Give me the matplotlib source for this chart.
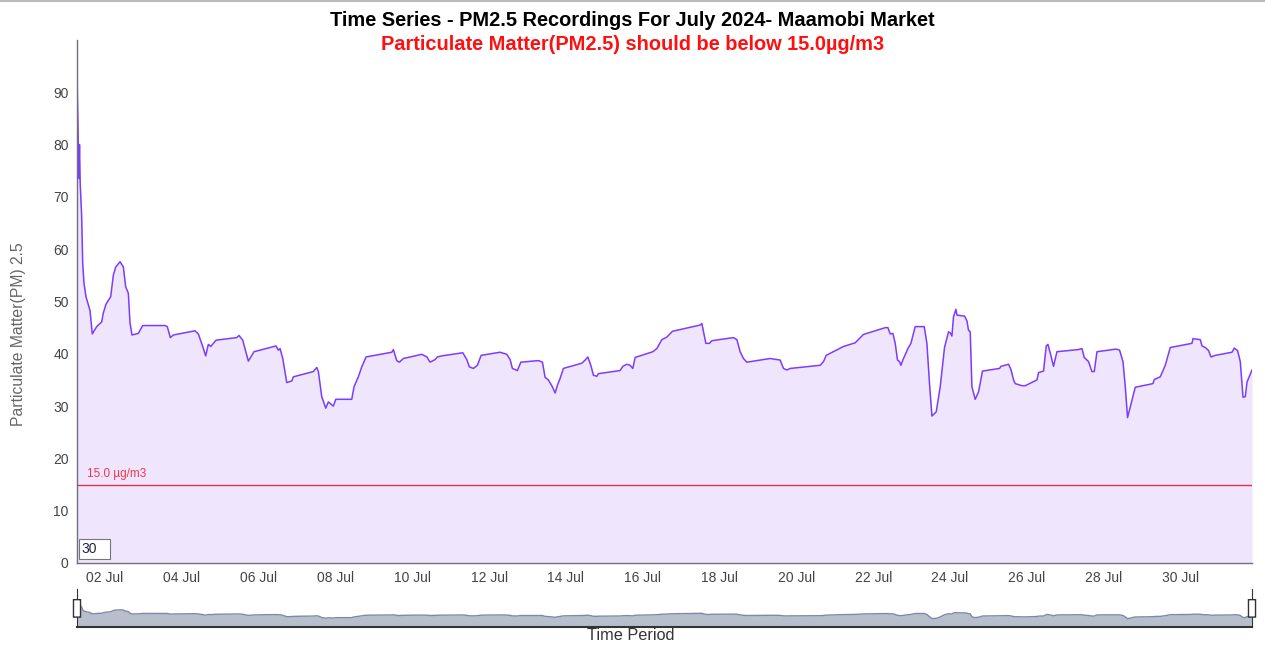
import numpy as np
import pandas as pd
import matplotlib
matplotlib.use("Agg")
import matplotlib.pyplot as plt
import matplotlib.dates as mdates
from matplotlib.patches import Rectangle, FancyBboxPatch
from matplotlib.lines import Line2D

plt.rcParams['font.family'] = ['Liberation Sans', 'DejaVu Sans']

# day of July (fractional) and PM2.5 readings
day_of_july = [
    1.271, 1.279, 1.305, 1.318, 1.336, 1.354, 1.393, 1.419, 1.453, 1.505,
    1.609, 1.669, 1.784, 1.914, 1.956, 2.026, 2.148, 2.216, 2.279, 2.391,
    2.477, 2.539, 2.607, 2.651, 2.703, 2.867, 2.982, 3.563, 3.622, 3.701,
    3.779, 4.344, 4.430, 4.544, 4.622, 4.690, 4.753, 4.891, 5.430, 5.490,
    5.586, 5.732, 5.880, 6.453, 6.513, 6.557, 6.628, 6.732, 6.862, 6.904,
    7.424, 7.513, 7.555, 7.643, 7.747, 7.815, 7.945, 8.008, 8.424, 8.484,
    8.596, 8.685, 8.797, 9.466, 9.508, 9.596, 9.664, 9.768, 10.247, 10.378,
    10.464, 10.594, 10.654, 10.768, 11.315, 11.419, 11.487, 11.591, 11.695, 11.792,
    12.286, 12.461, 12.547, 12.607, 12.737, 12.826, 13.284, 13.388, 13.458, 13.544,
    13.648, 13.719, 13.779, 13.849, 13.935, 14.414, 14.500, 14.570, 14.648, 14.716,
    14.805, 14.846, 15.411, 15.482, 15.586, 15.672, 15.742, 15.802, 16.263, 16.367,
    16.497, 16.628, 16.773, 17.495, 17.539, 17.599, 17.643, 17.737, 17.799, 18.362,
    18.451, 18.536, 18.622, 18.711, 19.318, 19.578, 19.664, 19.753, 19.839, 20.620,
    20.706, 20.776, 21.227, 21.531, 21.747, 22.313, 22.383, 22.443, 22.513, 22.573,
    22.633, 22.685, 22.721, 22.789, 22.904, 22.982, 23.094, 23.328, 23.398, 23.466,
    23.529, 23.641, 23.745, 23.857, 23.961, 24.005, 24.049, 24.091, 24.154, 24.180,
    24.378, 24.440, 24.482, 24.526, 24.570, 24.656, 24.742, 24.846, 25.289, 25.326,
    25.523, 25.586, 25.654, 25.698, 25.872, 25.958, 26.263, 26.305, 26.435, 26.505,
    26.549, 26.628, 26.695, 26.784, 27.331, 27.435, 27.495, 27.607, 27.695, 27.755,
    27.826, 28.328, 28.414, 28.503, 28.563, 28.622, 28.737, 28.823, 29.284, 29.318,
    29.474, 29.604, 29.734, 30.299, 30.326, 30.516, 30.560, 30.646, 30.732, 30.794,
    30.906, 31.341, 31.401, 31.487, 31.557, 31.628, 31.688, 31.732, 31.862,
]
pm25 = [
    100.0, 90.4, 80.3, 73.5, 80.0, 72.6, 66.2, 57.3, 53.5, 50.9,
    48.3, 43.8, 45.2, 46.1, 47.8, 49.5, 50.9, 55.0, 56.6, 57.6,
    56.6, 52.8, 51.6, 45.9, 43.6, 43.9, 45.4, 45.4, 45.2, 43.1,
    43.6, 44.4, 43.8, 41.4, 39.6, 41.8, 41.4, 42.6, 43.1, 43.5,
    42.6, 38.6, 40.4, 41.5, 40.7, 41.0, 39.1, 34.5, 34.8, 35.6,
    36.6, 37.4, 36.6, 31.8, 29.6, 30.8, 30.0, 31.3, 31.3, 33.7,
    35.6, 37.5, 39.4, 40.3, 40.8, 38.7, 38.4, 39.1, 39.9, 39.4,
    38.4, 38.9, 39.4, 39.6, 40.2, 38.9, 37.5, 37.2, 37.8, 39.7,
    40.3, 39.9, 38.9, 37.2, 36.8, 38.4, 38.7, 38.4, 35.5, 35.0,
    33.7, 32.5, 34.0, 35.3, 37.2, 38.2, 38.8, 39.4, 37.8, 35.9,
    35.7, 36.2, 36.8, 37.6, 38.0, 37.8, 37.2, 39.3, 40.4, 41.0,
    42.7, 43.2, 44.3, 45.5, 45.8, 43.6, 42.0, 42.0, 42.5, 43.1,
    42.7, 40.4, 39.1, 38.4, 39.1, 38.8, 37.2, 36.9, 37.2, 37.8,
    38.5, 39.7, 41.4, 42.1, 43.7, 45.0, 45.0, 43.8, 43.9, 42.0,
    38.8, 38.5, 37.8, 39.1, 41.0, 42.0, 45.2, 45.2, 42.0, 34.3,
    28.1, 28.9, 33.7, 41.2, 44.2, 44.0, 43.4, 47.1, 48.5, 47.4,
    47.2, 46.3, 44.5, 44.2, 33.7, 31.3, 32.7, 36.7, 37.2, 37.6,
    38.0, 37.0, 35.0, 34.3, 33.9, 33.9, 35.0, 36.4, 36.7, 41.5,
    41.8, 39.6, 37.6, 40.4, 40.8, 41.0, 39.3, 38.5, 36.6, 36.6,
    40.4, 40.9, 40.7, 38.5, 33.7, 27.8, 31.1, 33.6, 34.3, 35.1,
    35.6, 37.8, 41.2, 42.0, 42.9, 42.7, 41.5, 41.2, 40.6, 39.4,
    39.7, 40.3, 41.1, 40.6, 38.5, 31.7, 31.8, 34.6, 36.9,
]
limit = 15.0
y_ticks = [0, 10, 20, 30, 40, 50, 60, 70, 80, 90]

times = pd.Timestamp("2024-07-01") + pd.to_timedelta(np.array(day_of_july) - 1, unit="D")

fig = plt.figure(figsize=(12.65, 6.53), dpi=100)
ax = fig.add_axes([77 / 1265, 1 - 563 / 653, 1175 / 1265, 523 / 653])

line_c = "#7b3cff"
ax.fill_between(times, pm25, 0, color="#efe6fd", linewidth=0)
ax.plot(times, pm25, color=line_c, linewidth=1.1)
ax.axhline(limit, color="#e0304a", linewidth=1)
ax.text(times[0] + pd.Timedelta(hours=6), limit + 0.9, "15.0 µg/m3", color="#f0364e",
        fontsize=8.5, va="bottom", ha="left")

ax.set_xlim(times[0], times[-1])
ax.set_ylim(0, 100)
ax.set_yticks(y_ticks)
ax.xaxis.set_major_locator(mdates.DayLocator(bymonthday=range(2, 32, 2)))
ax.xaxis.set_major_formatter(mdates.DateFormatter("%d %b"))
ax.tick_params(axis="both", length=0, labelsize=10, colors="#444444", pad=6)
for s in ["top", "right"]:
    ax.spines[s].set_visible(False)
for s in ["left", "bottom"]:
    ax.spines[s].set_color("#6f6f80")
    ax.spines[s].set_linewidth(1)

fig.text(19 / 1265, 1 - 334 / 653, "Particulate Matter(PM) 2.5", rotation=90,
         fontsize=11.3, color="#666666", ha="center", va="center")

# little "30" input box at the bottom-left corner of the plot
ax.add_patch(Rectangle((0.0015, 0.008), 0.027, 0.037, transform=ax.transAxes,
                       facecolor="white", edgecolor="#777777", linewidth=0.8, zorder=5))
ax.text(0.004, 0.026, "30", transform=ax.transAxes, fontsize=10, color="#222244",
        va="center", ha="left", zorder=6)

fig.text(0.5, 1 - 21 / 653, "Time Series - PM2.5 Recordings For July 2024- Maamobi Market",
         ha="center", va="center", fontsize=14.4, fontweight="bold", color="black")
fig.text(0.5, 1 - 45 / 653, "Particulate Matter(PM2.5) should be below 15.0µg/m3",
         ha="center", va="center", fontsize=14.4, fontweight="bold", color="#ff1010")

# range slider
sl = fig.add_axes([77 / 1265, 1 - 627 / 653, 1175 / 1265, 38 / 653])
sl.fill_between(times, pm25, 0, color="#b8bfcc", linewidth=0)
sl.plot(times, pm25, color="#7d8aa6", linewidth=1)
sl.set_xlim(times[0], times[-1])
sl.set_ylim(0, 127)
sl.set_xticks([])
sl.set_yticks([])
sl.spines["top"].set_visible(False)
for s in ["bottom", "left", "right"]:
    sl.spines[s].set_color("#333333")
sl.spines["bottom"].set_linewidth(1.5)
for xh in [0.0, 1.0]:
    sl.add_patch(FancyBboxPatch((xh - 0.003, 0.26), 0.006, 0.46, transform=sl.transAxes,
                                boxstyle="round,pad=0,rounding_size=0.002",
                                facecolor="white", edgecolor="#333333", linewidth=1,
                                clip_on=False, zorder=5))
fig.text(631 / 1265, 1 - 636 / 653, "Time Period", fontsize=11.7, color="#333333",
         ha="center", va="center")

fig.add_artist(Line2D([0, 1], [0.999, 0.999], color="#bbbbbb", linewidth=1.5))

fig.savefig("out.png", dpi=100)
